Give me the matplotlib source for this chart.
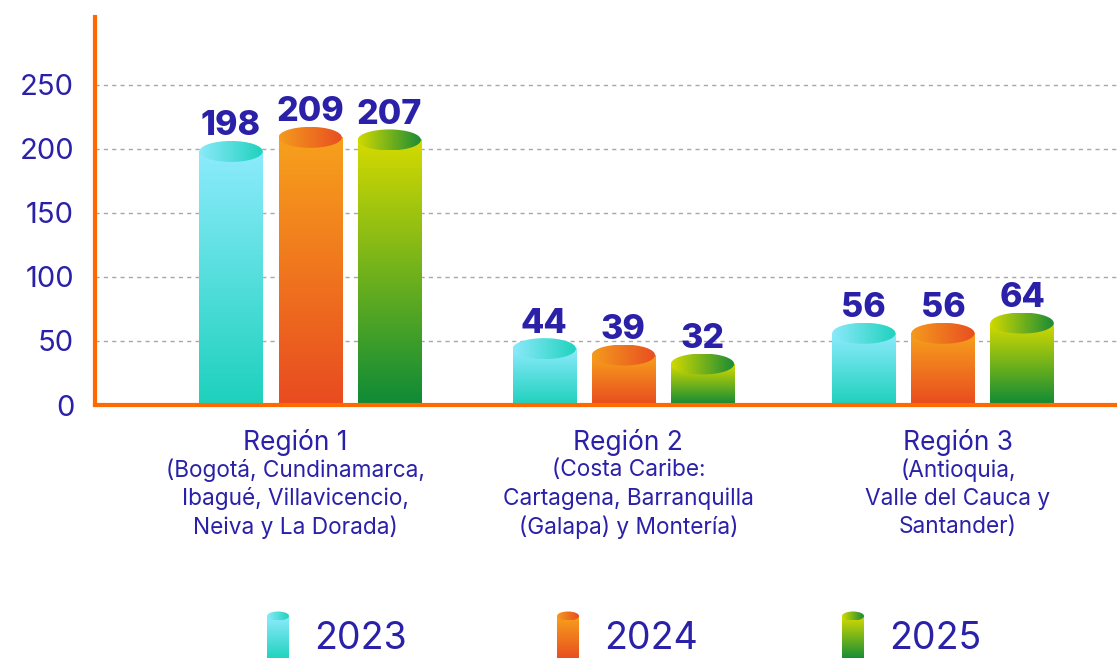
import numpy as np
import matplotlib
matplotlib.use("Agg")
import matplotlib.pyplot as plt
from matplotlib.patches import Ellipse
from matplotlib.colors import to_rgb

plt.rcParams['font.family'] = ['Inter', 'DejaVu Sans']

# Data
years = ['2023', '2024', '2025']
region_titles = ['Región 1', 'Región 2', 'Región 3']
region_lines = [
    ['(Bogotá, Cundinamarca,', 'Ibagué, Villavicencio,', 'Neiva y La Dorada)'],
    ['(Costa Caribe:', 'Cartagena, Barranquilla', '(Galapa) y Montería)'],
    ['(Antioquia,', 'Valle del Cauca y', 'Santander)'],
]
values_2023 = [198, 44, 56]
values_2024 = [209, 39, 56]
values_2025 = [207, 32, 64]
y_ticks = [0, 50, 100, 150, 200, 250]

# gradient colours: (bar top, bar bottom, cap left, cap right)
grads = [
    ('#8DEBFC', '#1DD1BD', '#8CE9FA', '#1FD2BE'),
    ('#F7A11C', '#E84B20', '#F49A1D', '#E84E21'),
    ('#D5DA00', '#0E8A37', '#D1D900', '#1A8B36'),
]
txt_color = '#2A21A8'
orange = '#FF6A00'


def vgrad(top, bot, n=200):
    t = np.linspace(0, 1, n)[:, None]
    a, b = np.array(to_rgb(top)), np.array(to_rgb(bot))
    return (a + (b - a) * t)[:, None, :].repeat(2, axis=1)


def hgrad(left, right, n=200):
    t = np.linspace(0, 1, n)[None, :, None]
    a, b = np.array(to_rgb(left)), np.array(to_rgb(right))
    return (a + (b - a) * t).repeat(2, axis=0)


def cylinder(ax, x0, w, top, cap_h, g, bottom=0):
    ax.imshow(vgrad(g[0], g[1]), extent=[x0, x0 + w, bottom, top],
              aspect='auto', origin='upper', zorder=3, interpolation='bilinear')
    el = Ellipse((x0 + w / 2, top), w, cap_h, transform=ax.transData,
                 facecolor='none', edgecolor='none')
    ax.add_patch(el)
    im = ax.imshow(hgrad(g[2], g[3]), extent=[x0, x0 + w, top - cap_h / 2, top + cap_h / 2],
                   aspect='auto', zorder=4, interpolation='bilinear')
    im.set_clip_path(el)


fig = plt.figure(figsize=(11.17, 6.58), dpi=100)
ax = fig.add_axes([95 / 1117, (658 - 405) / 658, 1 - 95 / 1117, 388 / 658])

series = [values_2023, values_2024, values_2025]
width = 0.2
step = 0.25
groups = np.array([0, 0.99, 2.0])
ymax = 303
cap_h = 21 * ymax / 388

for i, vals in enumerate(series):
    for j, v in enumerate(vals):
        x0 = groups[j] + (i - 1) * step - width / 2
        cylinder(ax, x0, width, v, cap_h, grads[i])
        ax.annotate(str(v), (groups[j] + (i - 1) * step, v), xytext=(0, 16),
                    textcoords='offset pixels', ha='center', va='baseline',
                    fontsize=24.5, fontweight='heavy', color=txt_color, zorder=5)

ax.set_xlim(-0.68, 2.55)
ax.set_ylim(0, ymax)
ax.set_yticks(y_ticks)
ax.set_xticks([])
ax.tick_params(axis='y', length=0, pad=15, labelsize=21, labelcolor=txt_color)
for s in ['top', 'right']:
    ax.spines[s].set_visible(False)
for s in ['left', 'bottom']:
    ax.spines[s].set_color(orange)
    ax.spines[s].set_linewidth(3)
    ax.spines[s].set_zorder(6)
ax.yaxis.grid(True, color='#A8A8A8', linestyle=(0, (3, 3)), linewidth=1)
ax.set_axisbelow(True)

label_shift = [-15, 5, 15]
for j, title in enumerate(region_titles):
    ax.annotate(title, (groups[j], 0), xycoords=('data', 'axes fraction'),
                xytext=(label_shift[j], -37), textcoords='offset pixels', ha='center',
                va='center', fontsize=19, color=txt_color, annotation_clip=False)
    for k, line in enumerate(region_lines[j]):
        ax.annotate(line, (groups[j], 0), xycoords=('data', 'axes fraction'),
                    xytext=(label_shift[j], -65 - 28.5 * k), textcoords='offset pixels',
                    ha='center', va='center', fontsize=16.3, color=txt_color,
                    annotation_clip=False)

# legend drawn in a pixel-based axes at the bottom
lax = fig.add_axes([0, 0, 1, 66 / 658])
lax.set_xlim(0, 1117)
lax.set_ylim(0, 66)
lax.axis('off')
leg_x = [267, 557, 842]
for i, yr in enumerate(years):
    cylinder(lax, leg_x[i], 22, 42, 9, grads[i], bottom=-2)
    lax.text(leg_x[i] + 47, 19, yr, fontsize=27, color=txt_color, va='center', ha='left')
lax.set_xlim(0, 1117)
lax.set_ylim(0, 66)

fig.savefig('out.png', dpi=100)
